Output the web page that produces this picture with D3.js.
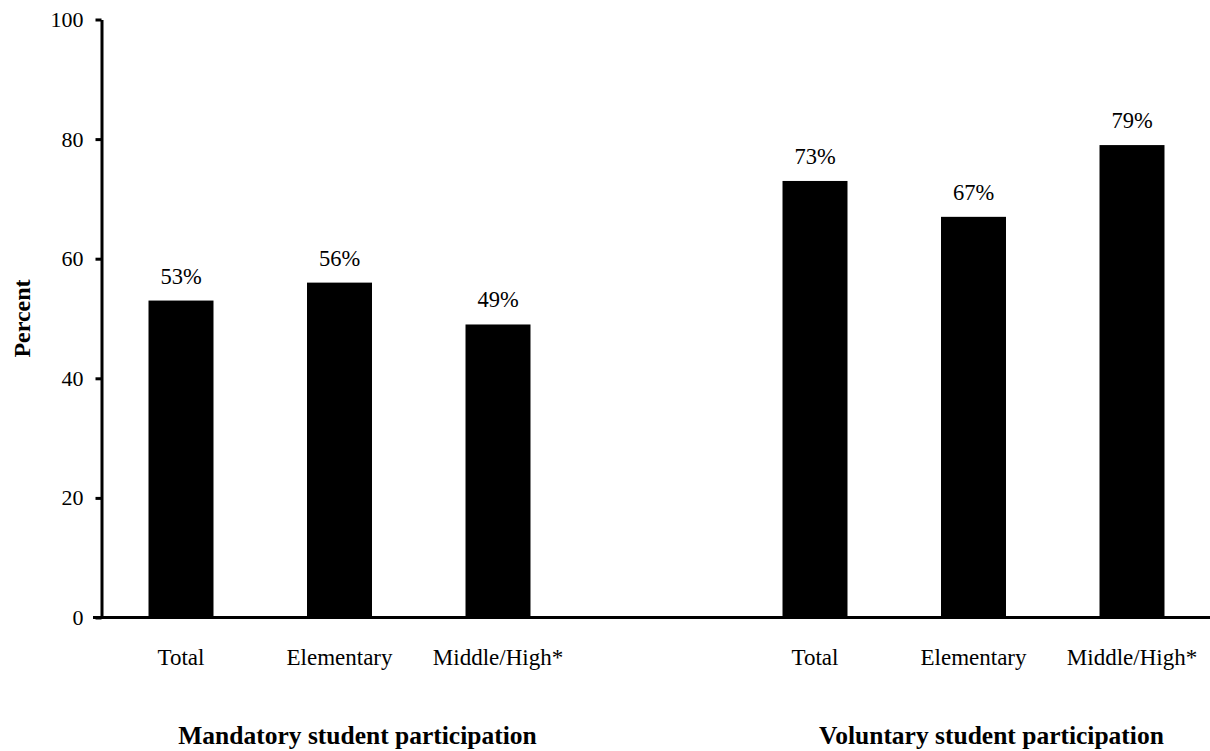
<!DOCTYPE html>
<html>
<head>
<meta charset="utf-8">
<script src="https://cdn.jsdelivr.net/npm/d3@7"></script>
<style>
  body { margin: 0; background: #fff; }
  svg { display: block; font-family: "Liberation Serif", "Times New Roman", serif; }
</style>
</head>
<body>
<svg id="chart" width="1210" height="751"></svg>
<script>
// data
var categories = ["Total", "Elementary", "Middle/High*"];
var groups = ["Mandatory student participation", "Voluntary student participation"];
var mandatoryValues = [53, 56, 49];
var voluntaryValues = [73, 67, 79];
var yTicks = [0, 20, 40, 60, 80, 100];

var svg = d3.select("#chart");
var width = +svg.attr("width");
var height = +svg.attr("height");

// one empty slot between the two groups
var rows = [];
groups.forEach(function (g, gi) {
  var vals = gi === 0 ? mandatoryValues : voluntaryValues;
  categories.forEach(function (c, ci) {
    rows.push({ key: gi + "-" + c, group: g, gi: gi, cat: c, value: vals[ci] });
  });
  if (gi === 0) rows.push({ key: "gap", gap: true });
});

var x = d3.scaleBand()
  .domain(rows.map(function (d) { return d.key; }))
  .range([101.75, 1211.25])
  .paddingInner(0.59)
  .paddingOuter(0.295);

var y = d3.scaleLinear().domain([0, 100]).range([617.5, 19.5]);

var bars = rows.filter(function (d) { return !d.gap; });

// bars
svg.append("g")
  .selectAll("rect")
  .data(bars)
  .enter()
  .append("rect")
  .attr("x", function (d) { return x(d.key); })
  .attr("y", function (d) { return y(d.value); })
  .attr("width", x.bandwidth())
  .attr("height", function (d) { return y(0) - y(d.value); })
  .attr("fill", "#000");

// value labels
svg.append("g")
  .selectAll("text")
  .data(bars)
  .enter()
  .append("text")
  .attr("x", function (d) { return x(d.key) + x.bandwidth() / 2; })
  .attr("y", function (d) { return y(d.value) - 17; })
  .attr("text-anchor", "middle")
  .style("font-size", "22.5px")
  .style("font-family", "Liberation Serif")
  .text(function (d) { return d.value + "%"; });

// y axis
var yAxis = svg.append("g")
  .attr("transform", "translate(101.5,0)")
  .call(d3.axisLeft(y).tickValues(yTicks).tickSize(6).tickSizeOuter(0).tickPadding(12));
yAxis.select(".domain").attr("stroke-width", 3);
yAxis.selectAll(".tick line").attr("stroke-width", 3);
yAxis.selectAll(".tick text")
  .style("font-size", "22px")
  .style("font-family", "Liberation Serif")
  .attr("fill", "#000");

// x axis line
svg.append("line")
  .attr("x1", 93).attr("x2", width)
  .attr("y1", y(0)).attr("y2", y(0))
  .attr("stroke", "#000")
  .attr("stroke-width", 3);

// category labels
var xAxis = svg.append("g")
  .attr("transform", "translate(0," + y(0) + ")")
  .call(d3.axisBottom(x)
    .tickValues(bars.map(function (d) { return d.key; }))
    .tickFormat(function (k) { return k.slice(2); })
    .tickSize(0)
    .tickPadding(31));
xAxis.select(".domain").remove();
xAxis.selectAll(".tick text")
  .style("font-size", "23px")
  .style("font-family", "Liberation Serif")
  .attr("fill", "#000");

// group titles
svg.append("g")
  .selectAll("text")
  .data(groups)
  .enter()
  .append("text")
  .attr("x", function (g, gi) {
    var keys = categories.map(function (c) { return gi + "-" + c; });
    return (x(keys[0]) + x(keys[2]) + x.bandwidth()) / 2 + 18;
  })
  .attr("y", 744)
  .attr("text-anchor", "middle")
  .style("font-size", "25.5px")
  .style("font-weight", "bold")
  .text(function (g) { return g; });

// y title
svg.append("text")
  .attr("transform", "translate(29.5,318.5) rotate(-90)")
  .attr("text-anchor", "middle")
  .style("font-size", "24px")
  .style("font-weight", "bold")
  .text("Percent");
</script>
</body>
</html>
